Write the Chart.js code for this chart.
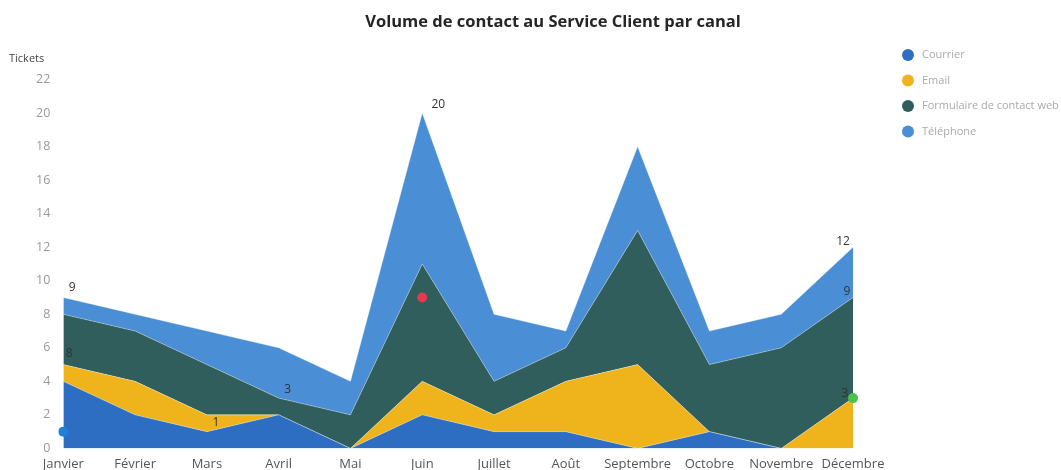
<!DOCTYPE html>
<html lang="fr">
<head>
    <meta charset="UTF-8">
    <title>Volume de contact</title>
    <style>
        html, body {
            margin: 0;
            padding: 0;
            background: #ffffff;
        }
        #wrap {
            position: relative;
            width: 1061px;
            height: 470px;
        }
    </style>
</head>
<body>
<div id="wrap">
    <canvas id="contactChart" width="1061" height="470"></canvas>
</div>

<script src="https://cdn.jsdelivr.net/npm/chart.js"></script>
<script>
    // Données
    const mois = ['Janvier', 'Février', 'Mars', 'Avril', 'Mai', 'Juin', 'Juillet', 'Août', 'Septembre', 'Octobre', 'Novembre', 'Décembre'];
    const courrier = [4, 2, 1, 2, 0, 2, 1, 1, 0, 1, 0, 0];
    const email = [1, 2, 1, 0, 0, 2, 1, 3, 5, 0, 0, 3];
    const formulaire = [3, 3, 3, 1, 2, 7, 2, 2, 8, 4, 6, 6];
    const telephone = [1, 1, 2, 3, 2, 9, 4, 1, 5, 2, 2, 3];
    const marqueurs = [1, null, null, null, null, 9, null, null, null, null, null, 3];
    const yTicks = [0, 2, 4, 6, 8, 10, 12, 14, 16, 18, 20, 22];

    const titre = 'Volume de contact au Service Client par canal';
    const couleurs = ['#2d6ec2', '#efb41c', '#2f5e5d', '#4a8ed6'];
    const couleursMarqueurs = ['#1f80d8', null, null, null, null, '#e23a4e', null, null, null, null, null, '#4cc04c'];

    // étiquettes affichées : [série, mois, dx, dy]
    const etiquettes = [
        [3, 0, 9, -10], [2, 0, 6, 39], [0, 2, 9, -9], [2, 3, 9, -9],
        [3, 5, 16, -8], [3, 11, -10, -6], [2, 11, -6, -6], [1, 11, -8, -5]
    ];

    const series = [courrier, email, formulaire, telephone];
    const noms = ['Courrier', 'Email', 'Formulaire de contact web', 'Téléphone'];

    function cumul(s, i) {
        let total = 0;
        for (let k = 0; k <= s; k++) total += series[k][i];
        return total;
    }

    const decorations = {
        id: 'decorations',
        afterDraw(chart) {
            const ctx = chart.ctx;
            const x = chart.scales.x;
            const y = chart.scales.y;
            ctx.save();
            // titre
            ctx.fillStyle = '#252525';
            ctx.font = 'bold 16.5px "Open Sans", sans-serif';
            ctx.textAlign = 'center';
            ctx.textBaseline = 'middle';
            ctx.fillText(titre, 553, 22);
            // titre de l'axe
            ctx.fillStyle = '#444';
            ctx.font = '11px "Open Sans", sans-serif';
            ctx.textAlign = 'left';
            ctx.fillText('Tickets', 9, 59);
            // étiquettes de données
            ctx.fillStyle = '#333';
            ctx.font = '12px "Open Sans", sans-serif';
            ctx.textAlign = 'center';
            etiquettes.forEach(([s, i, dx, dy]) => {
                const v = cumul(s, i);
                ctx.fillText(String(v), x.getPixelForValue(i) + dx, y.getPixelForValue(v) + dy);
            });
            // légende
            ctx.font = '11px "Open Sans", sans-serif';
            ctx.textAlign = 'left';
            noms.forEach((nom, k) => {
                const cy = 55 + k * 25.5;
                ctx.beginPath();
                ctx.arc(908, cy, 6, 0, Math.PI * 2);
                ctx.fillStyle = couleurs[k];
                ctx.fill();
                ctx.fillStyle = '#aaa';
                ctx.fillText(nom, 922, cy);
            });
            ctx.restore();
        }
    };

    const datasets = series.map((d, k) => ({
        label: noms[k],
        data: d,
        stack: 'canaux',
        backgroundColor: couleurs[k],
        borderColor: 'rgba(255,255,255,0.35)',
        borderWidth: 1,
        pointRadius: 0,
        fill: k === 0 ? 'origin' : '-1',
        tension: 0
    }));

    datasets.push({
        label: 'marqueurs',
        data: marqueurs,
        stack: 'marqueurs',
        order: -1,
        showLine: false,
        fill: false,
        pointRadius: 5,
        pointBorderWidth: 0,
        pointBackgroundColor: couleursMarqueurs,
        borderColor: 'transparent'
    });

    new Chart(document.getElementById('contactChart'), {
        type: 'line',
        data: { labels: mois, datasets: datasets },
        options: {
            responsive: false,
            animation: false,
            layout: { padding: { top: 46, right: 208, bottom: -10, left: 23 } },
            plugins: {
                legend: { display: false },
                title: { display: false },
                tooltip: { enabled: false }
            },
            scales: {
                x: {
                    offset: false,
                    grid: { display: false, drawTicks: false },
                    border: { display: false },
                    ticks: {
                        color: '#555',
                        padding: 8,
                        maxRotation: 0,
                        autoSkip: false,
                        font: { family: 'Open Sans', size: 13 }
                    }
                },
                y: {
                    stacked: true,
                    min: 0,
                    max: 24,
                    grid: { display: false, drawTicks: false },
                    border: { display: false },
                    afterBuildTicks: (axis) => {
                        axis.ticks = yTicks.map(v => ({ value: v }));
                    },
                    ticks: {
                        color: '#999',
                        padding: 13,
                        font: { family: 'Open Sans', size: 12.5 }
                    }
                }
            }
        },
        plugins: [decorations]
    });
</script>
</body>
</html>
